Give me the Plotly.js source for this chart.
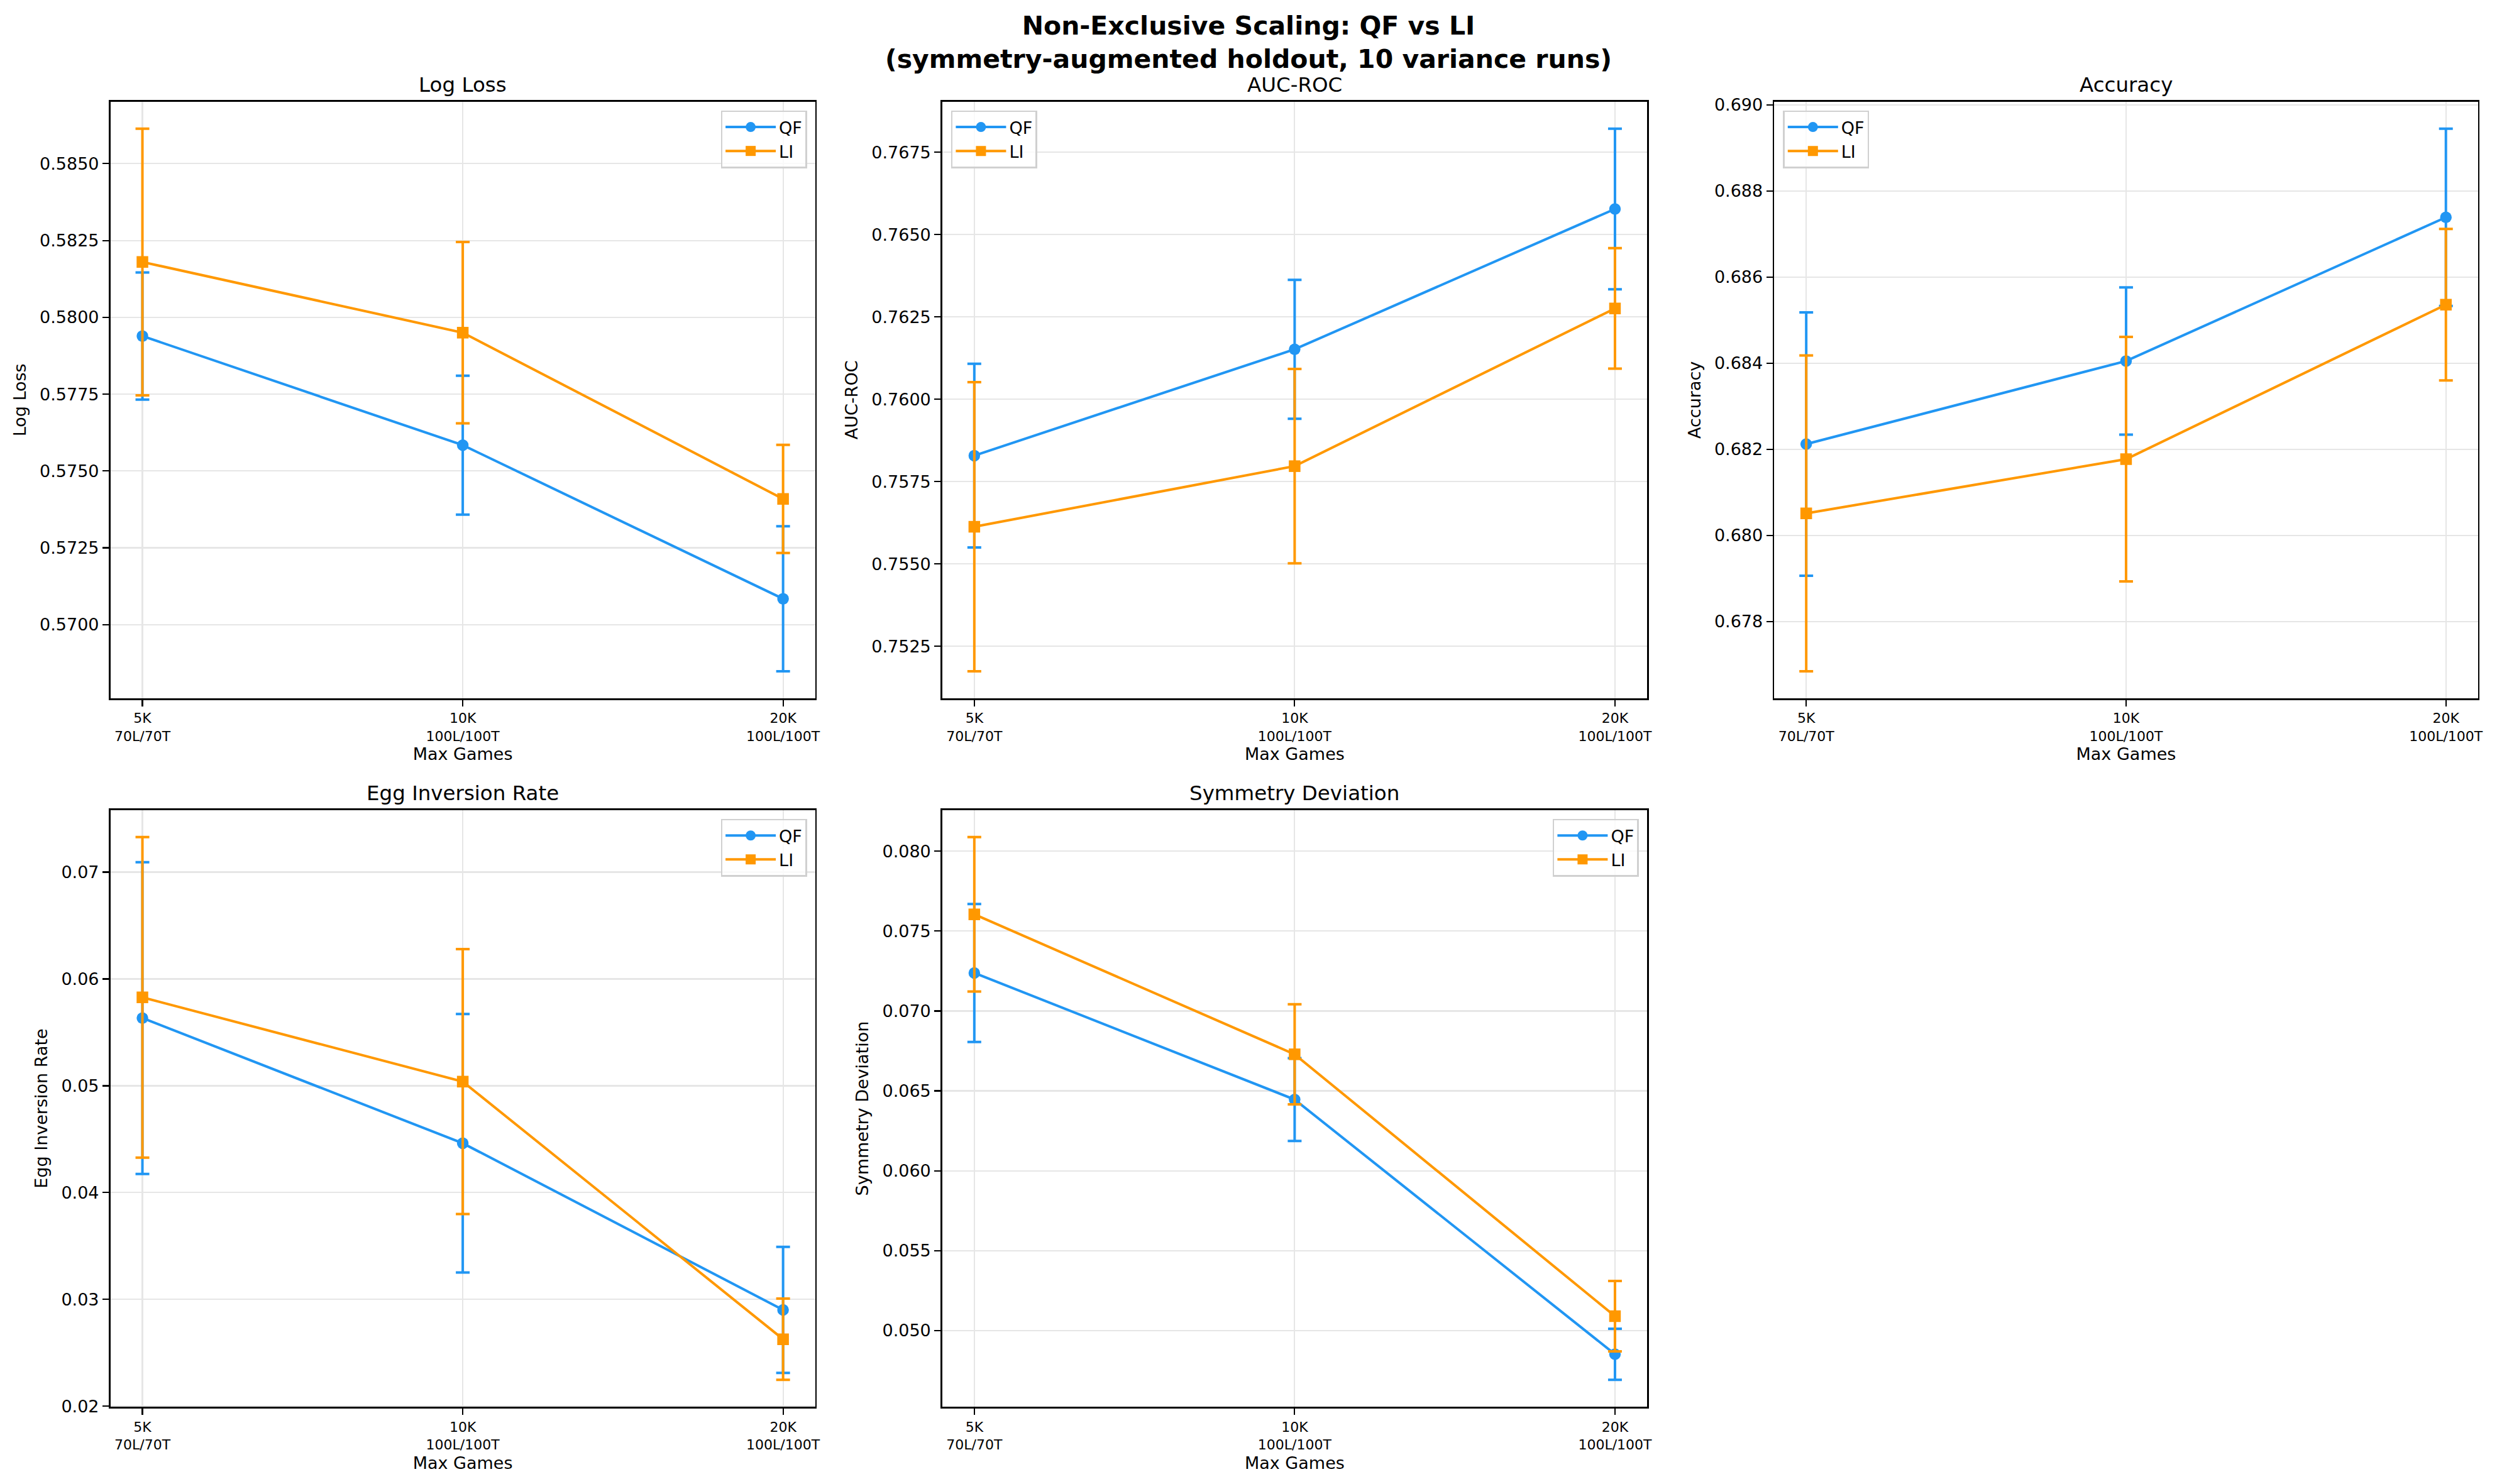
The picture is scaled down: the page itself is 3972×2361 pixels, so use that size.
<!DOCTYPE html>
<html>
<head>
<meta charset="utf-8">
<script src="https://cdn.plot.ly/plotly-3.0.1.min.js"></script>
<style>html,body{margin:0;padding:0;background:#fff;}#chart{width:3972px;height:2361px;}</style>
</head>
<body>
<div id="chart"></div>
<script>
// ---- data ----
const categories = ['5K', '10K', '20K'];
const tickLabels = ['5K<br>70L/70T', '10K<br>100L/100T', '20K<br>100L/100T'];
const seriesNames = ['QF', 'LI'];

const logLossQF = [0.57939, 0.57584, 0.57084];
const logLossQFErr = [0.00207, 0.00226, 0.00236];
const logLossLI = [0.58180, 0.57950, 0.57409];
const logLossLIErr = [0.00434, 0.00295, 0.00176];

const aucQF = [0.75829, 0.76152, 0.76578];
const aucQFErr = [0.00279, 0.00211, 0.00244];
const aucLI = [0.75613, 0.75797, 0.76276];
const aucLIErr = [0.00439, 0.00295, 0.00183];

const accQF = [0.68212, 0.68405, 0.68739];
const accQFErr = [0.00306, 0.00171, 0.00206];
const accLI = [0.68051, 0.68177, 0.68536];
const accLIErr = [0.00367, 0.00284, 0.00176];

const eggQF = [0.05634, 0.04462, 0.02902];
const eggQFErr = [0.0146, 0.0121, 0.0059];
const eggLI = [0.05828, 0.05039, 0.02627];
const eggLIErr = [0.0150, 0.0124, 0.0038];

const symQF = [0.07238, 0.06446, 0.04852];
const symQFErr = [0.00432, 0.00259, 0.00160];
const symLI = [0.07605, 0.06729, 0.05090];
const symLIErr = [0.00483, 0.00313, 0.00220];

const panelTitles = ['Log Loss', 'AUC-ROC', 'Accuracy', 'Egg Inversion Rate', 'Symmetry Deviation'];
const suptitle = 'Non-Exclusive Scaling: QF vs LI<br>(symmetry-augmented holdout, 10 variance runs)';
const xTitle = 'Max Games';

// ---- styling ----
const W = 3972, H = 2361;
const FONT = "'DejaVu Sans'";
const colors = ['#2196F3', '#FF9800'];
const symbols = ['circle', 'square'];

const panels = [
  {qf: logLossQF, qfe: logLossQFErr, li: logLossLI, lie: logLossLIErr, fmt: '.4f', dtick: 0.0025, legendSide: 'right'},
  {qf: aucQF, qfe: aucQFErr, li: aucLI, lie: aucLIErr, fmt: '.4f', dtick: 0.0025, legendSide: 'left'},
  {qf: accQF, qfe: accQFErr, li: accLI, lie: accLIErr, fmt: '.3f', dtick: 0.002, legendSide: 'left'},
  {qf: eggQF, qfe: eggQFErr, li: eggLI, lie: eggLIErr, fmt: '.2f', dtick: 0.01, legendSide: 'right'},
  {qf: symQF, qfe: symQFErr, li: symLI, lie: symLIErr, fmt: '.3f', dtick: 0.005, legendSide: 'right'}
];

// pixel boxes [left, right], [top, bottom]
const cols = [[175.6, 1296.6], [1498.9, 2619.9], [2822.3, 3941.6]];
const rows = [[161.5, 1111.2], [1288.7, 2238.4]];
const boxes = [
  [cols[0], rows[0]], [cols[1], rows[0]], [cols[2], rows[0]],
  [cols[0], rows[1]], [cols[1], rows[1]]
];

const traces = [];
const layout = {
  width: W, height: H,
  margin: {l: 0, r: 0, t: 0, b: 0},
  paper_bgcolor: '#ffffff',
  plot_bgcolor: '#ffffff',
  font: {family: FONT, color: '#000000', size: 27},
  showlegend: true,
  title: {
    text: '<b>' + suptitle + '</b>',
    x: 0.5, xref: 'paper', xanchor: 'center',
    y: 1 - 55 / H, yref: 'container', yanchor: 'middle',
    font: {family: FONT, size: 41, color: '#000000'}
  },
  annotations: []
};

panels.forEach((p, i) => {
  const n = i + 1;
  const xa = 'xaxis' + (n === 1 ? '' : n);
  const ya = 'yaxis' + (n === 1 ? '' : n);
  const xr = 'x' + (n === 1 ? '' : n);
  const yr = 'y' + (n === 1 ? '' : n);
  const lg = 'legend' + (n === 1 ? '' : n);
  const box = boxes[i];

  const vals = [p.qf, p.li], errs = [p.qfe, p.lie];
  let lo = Infinity, hi = -Infinity;
  vals.forEach((v, s) => v.forEach((y, k) => {
    lo = Math.min(lo, y - errs[s][k]);
    hi = Math.max(hi, y + errs[s][k]);
  }));
  const pad = (hi - lo) * 0.05;

  vals.forEach((v, s) => {
    traces.push({
      type: 'scatter', mode: 'lines+markers',
      name: seriesNames[s],
      x: categories, y: v,
      xaxis: xr, yaxis: yr, legend: lg,
      line: {color: colors[s], width: 4},
      marker: {color: colors[s], symbol: symbols[s], size: 18.5, line: {width: 0}},
      error_y: {type: 'data', array: errs[s], visible: true, color: colors[s], thickness: 4, width: 11}
    });
  });

  const axCommon = {
    showline: true, mirror: true, linecolor: '#000000', linewidth: 2.7,
    showgrid: true, gridcolor: '#e6e6e6', gridwidth: 2.2,
    zeroline: false,
    ticks: 'outside', ticklen: 10, tickwidth: 2.2, tickcolor: '#000000'
  };

  layout[xa] = Object.assign({}, axCommon, {
    domain: [box[0][0] / W, box[0][1] / W],
    anchor: yr,
    type: 'category',
    range: [-0.1, 2.1],
    tickvals: categories, ticktext: tickLabels,
    tickfont: {family: FONT, size: 22, color: '#000000'},
    title: {text: xTitle, font: {family: FONT, size: 27, color: '#000000'}, standoff: 8}
  });
  layout[ya] = Object.assign({}, axCommon, {
    domain: [1 - box[1][1] / H, 1 - box[1][0] / H],
    anchor: xr,
    range: [lo - pad, hi + pad],
    tick0: 0, dtick: p.dtick, tickformat: p.fmt,
    tickfont: {family: FONT, size: 27, color: '#000000'},
    title: {text: panelTitles[i], font: {family: FONT, size: 27, color: '#000000'}, standoff: 14}
  });

  layout.annotations.push({
    text: panelTitles[i], showarrow: false,
    xref: 'paper', yref: 'paper',
    x: (box[0][0] + box[0][1]) / 2 / W, xanchor: 'center',
    y: 1 - (box[1][0] - 6) / H, yanchor: 'bottom',
    font: {family: FONT, size: 32.5, color: '#000000'}
  });

  const right = p.legendSide === 'right';
  layout[lg] = {
    x: right ? (box[0][1] - 13) / W : (box[0][0] + 14) / W,
    xanchor: right ? 'right' : 'left',
    xref: 'paper', yref: 'paper',
    y: 1 - (box[1][0] + 14) / H, yanchor: 'top',
    bgcolor: 'rgba(255,255,255,0.8)',
    bordercolor: '#d0d0d0', borderwidth: 2.5,
    font: {family: FONT, size: 27, color: '#000000'},
    itemwidth: 80, tracegroupgap: 0
  };
});

Plotly.newPlot('chart', traces, layout, {displayModeBar: false, staticPlot: true});
</script>
</body>
</html>
